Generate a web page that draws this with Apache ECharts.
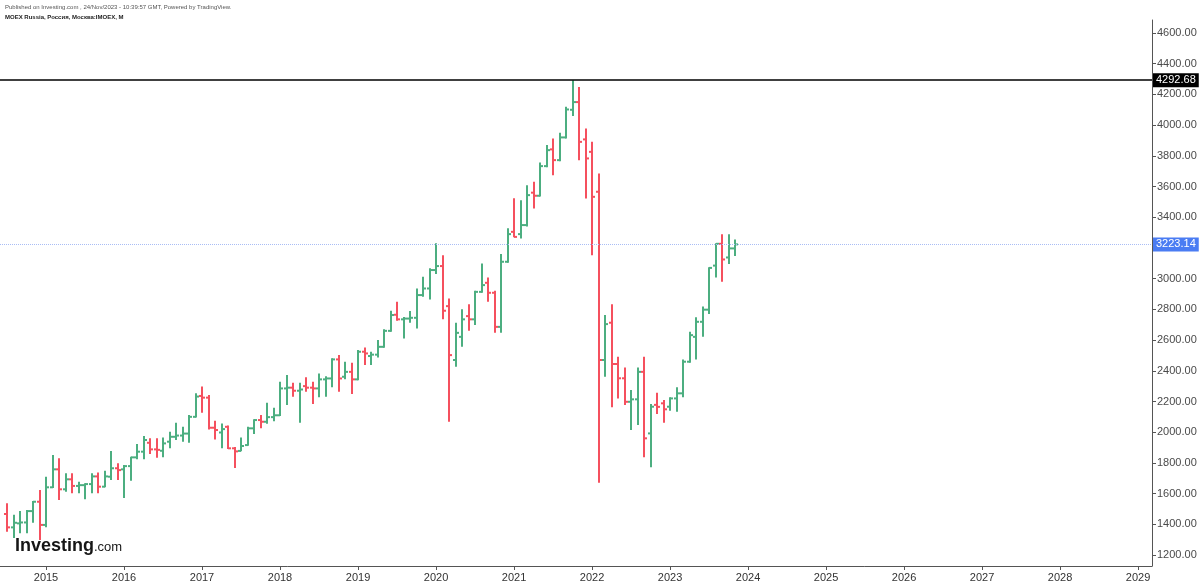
<!DOCTYPE html>
<html><head><meta charset="utf-8">
<script src="https://cdn.jsdelivr.net/npm/echarts@6/dist/echarts.min.js"></script>
<style>html,body{margin:0;padding:0;background:#fff}#c{width:1200px;height:586px}</style>
</head><body><div id="c"></div>
<script>
const months = [
 '2014-07','2014-08','2014-09','2014-10','2014-11','2014-12',
 '2015-01','2015-02','2015-03','2015-04','2015-05','2015-06','2015-07','2015-08','2015-09','2015-10','2015-11','2015-12',
 '2016-01','2016-02','2016-03','2016-04','2016-05','2016-06','2016-07','2016-08','2016-09','2016-10','2016-11','2016-12',
 '2017-01','2017-02','2017-03','2017-04','2017-05','2017-06','2017-07','2017-08','2017-09','2017-10','2017-11','2017-12',
 '2018-01','2018-02','2018-03','2018-04','2018-05','2018-06','2018-07','2018-08','2018-09','2018-10','2018-11','2018-12',
 '2019-01','2019-02','2019-03','2019-04','2019-05','2019-06','2019-07','2019-08','2019-09','2019-10','2019-11','2019-12',
 '2020-01','2020-02','2020-03','2020-04','2020-05','2020-06','2020-07','2020-08','2020-09','2020-10','2020-11','2020-12',
 '2021-01','2021-02','2021-03','2021-04','2021-05','2021-06','2021-07','2021-08','2021-09','2021-10','2021-11','2021-12',
 '2022-01','2022-02','2022-03','2022-04','2022-05','2022-06','2022-07','2022-08','2022-09','2022-10','2022-11','2022-12',
 '2023-01','2023-02','2023-03','2023-04','2023-05','2023-06','2023-07','2023-08','2023-09','2023-10','2023-11'
];
const open = [
 1467,1380,1406,1412,1486,1547,
 1396,1641,1758,1628,1693,1650,1655,1662,1712,1645,1710,1765,
 1758,1779,1836,1873,1931,1888,1879,1938,1970,1978,1991,2100,
 2236,2225,2029,1998,2035,1895,1878,1916,2025,2079,2068,2098,
 2110,2285,2290,2270,2300,2290,2285,2344,2350,2474,2361,2393,
 2344,2524,2496,2505,2556,2660,2765,2735,2740,2745,2893,2936,
 3056,3082,2821,2470,2621,2756,2735,2914,2973,2908,2686,3110,
 3305,3290,3349,3560,3540,3733,3842,3772,3920,4100,4150,3907,
 3826,3566,2470,2713,2444,2351,2198,2214,2393,1992,2178,2188,
 2166,2220,2253,2459,2621,2719,2798,3085,3227,3138,3197
];
const high = [
 1537,1462,1486,1493,1552,1623,
 1710,1851,1830,1732,1732,1677,1667,1732,1738,1749,1877,1797,
 1786,1840,1923,1975,1960,1960,1966,2003,2061,2035,2112,2253,
 2298,2242,2074,2057,2044,1903,1966,2035,2084,2112,2192,2159,
 2328,2372,2322,2322,2357,2328,2383,2365,2481,2502,2459,2452,
 2535,2552,2524,2600,2670,2791,2849,2750,2790,2936,3012,3067,
 3230,3153,2871,2712,2800,2834,2921,3099,3008,2921,3160,3329,
 3523,3511,3609,3631,3756,3870,3913,3950,4119,4292.68,4249,3978,
 3891,3685,2763,2834,2491,2422,2274,2422,2491,2183,2257,2209,
 2227,2292,2474,2654,2748,2819,3075,3231,3290,3290,3255
];
const low = [
 1352,1310,1341,1341,1410,1298,
 1380,1636,1558,1612,1602,1602,1563,1602,1602,1641,1688,1688,
 1571,1684,1823,1823,1858,1834,1836,1895,1949,1938,1931,2095,
 2127,2018,1953,1895,1890,1766,1875,1912,1988,2025,2055,2072,
 2105,2177,2231,2061,2263,2183,2227,2231,2292,2263,2345,2248,
 2339,2437,2437,2487,2550,2654,2726,2611,2712,2676,2882,2865,
 3030,2735,2068,2426,2556,2660,2698,2908,2849,2647,2647,3103,
 3269,3262,3340,3457,3535,3725,3674,3765,3913,4060,3772,3522,
 3153,1671,2361,2162,2220,2177,2014,2046,1836,1771,2118,2061,
 2140,2133,2227,2452,2474,2621,2769,3008,2980,3095,3147
];
const close = [
 1380,1410,1412,1486,1547,1396,
 1641,1758,1628,1693,1650,1655,1662,1712,1645,1712,1765,1753,
 1779,1836,1873,1949,1888,1885,1927,1970,1978,1991,2100,2232,
 2225,2029,2014,2020,1895,1875,1910,2025,2079,2068,2098,2110,
 2285,2290,2270,2278,2290,2285,2344,2350,2474,2350,2393,2344,
 2524,2513,2505,2556,2660,2763,2735,2740,2745,2893,2936,3056,
 3082,2791,2502,2647,2735,2735,2914,2958,2908,2686,3110,3290,
 3272,3349,3544,3540,3733,3837,3772,3920,4102,4150,3891,3783,
 3533,2470,2704,2444,2351,2198,2214,2393,1960,2166,2165,2149,
 2220,2253,2459,2632,2719,2798,3070,3227,3125,3197,3223.14
];
const priceTicks = [1200,1400,1600,1800,2000,2200,2400,2600,2800,3000,3200,3400,3600,3800,4000,4200,4400,4600];
const yearTicks = [2015,2016,2017,2018,2019,2020,2021,2022,2023,2024,2025,2026,2027,2028,2029];
const athValue = 4292.68;
const lastValue = 3223.14;

const UP = '#4cae80', DOWN = '#f5505e';
function monthIndex(s){ const p = s.split('-').map(Number); return (p[0]-2015)*12 + (p[1]-1); }
const bars = months.map((s,i)=>[monthIndex(s), open[i], high[i], low[i], close[i]]);
const yearPos = yearTicks.map(y=>(y-2015)*12);

const FONT = '"Liberation Sans", Arial, sans-serif';
const chart = echarts.init(document.getElementById('c'));
chart.setOption({
  animation:false,
  textStyle:{fontFamily:FONT},
  grid:{left:0,right:48,top:20,bottom:20},
  xAxis:{
    type:'value', min:-7.077, max:170.15,
    axisLine:{show:true,onZero:false,lineStyle:{color:'#555',width:1}},
    axisTick:{show:true,customValues:yearPos,length:4,lineStyle:{color:'#555'}},
    axisLabel:{customValues:yearPos,formatter:v=>String(2015+Math.round(v/12)),color:'#333',fontSize:11,margin:6,fontFamily:FONT},
    splitLine:{show:false}
  },
  yAxis:{
    type:'value', position:'right', min:1128.4, max:4684.7, scale:true,
    axisLine:{show:true,onZero:false,lineStyle:{color:'#555',width:1}},
    axisTick:{show:true,customValues:priceTicks,length:4,lineStyle:{color:'#555'}},
    axisLabel:{customValues:priceTicks,formatter:v=>v.toFixed(2),color:'#4a4a4a',fontSize:11,margin:5,fontFamily:FONT},
    splitLine:{show:false}
  },
  series:[{
    type:'custom',
    data:bars,
    encode:{x:0,y:[1,2,3,4]},
    renderItem:function(params, api){
      const x=api.value(0), o=api.value(1), h=api.value(2), l=api.value(3), c=api.value(4);
      const pH=api.coord([x,h]), pL=api.coord([x,l]), pO=api.coord([x,o]), pC=api.coord([x,c]);
      const col = c>=o ? UP : DOWN;
      const cx = Math.round(pH[0]);
      const st = {stroke:col,lineWidth:2};
      return {type:'group',children:[
        {type:'line',shape:{x1:cx,y1:pH[1],x2:cx,y2:pL[1]},style:st},
        {type:'line',shape:{x1:cx-3,y1:pO[1],x2:cx,y2:pO[1]},style:st},
        {type:'line',shape:{x1:cx,y1:pC[1],x2:cx+3,y2:pC[1]},style:st}
      ]};
    },
    markLine:{
      silent:true, symbol:['none','none'], animation:false,
      data:[
        {yAxis:athValue,lineStyle:{color:'#000',width:1.5,type:'solid'},
         label:{show:true,position:'end',distance:1,formatter:athValue.toFixed(2),color:'#fff',backgroundColor:'#000',padding:[2,3,1,3],fontSize:11,fontFamily:FONT}},
        {yAxis:lastValue,lineStyle:{color:'#a9bdf5',width:1,type:'dotted'},
         label:{show:true,position:'end',distance:1,formatter:lastValue.toFixed(2),color:'#fff',backgroundColor:'#4a7cf3',padding:[2,3,1,3],fontSize:11,fontFamily:FONT}}
      ]
    }
  }],
  graphic:[
    {type:'text',left:5,top:4,style:{text:'Published on Investing.com , 24/Nov/2023 - 10:39:57 GMT, Powered by TradingView.',fontSize:6,fill:'#555',fontFamily:FONT}},
    {type:'text',left:5,top:14,style:{text:'MOEX Russia, Россия, Москва:IMOEX, M',fontSize:6,fontWeight:'bold',fill:'#222',fontFamily:FONT}},
    {type:'text',left:15,top:537,style:{text:'Investing',fontSize:18,fontWeight:'bold',fill:'#161616',fontFamily:FONT}},
    {type:'text',left:94,top:541,style:{text:'.com',fontSize:13,fill:'#161616',fontFamily:FONT}}
  ]
});
</script></body></html>
